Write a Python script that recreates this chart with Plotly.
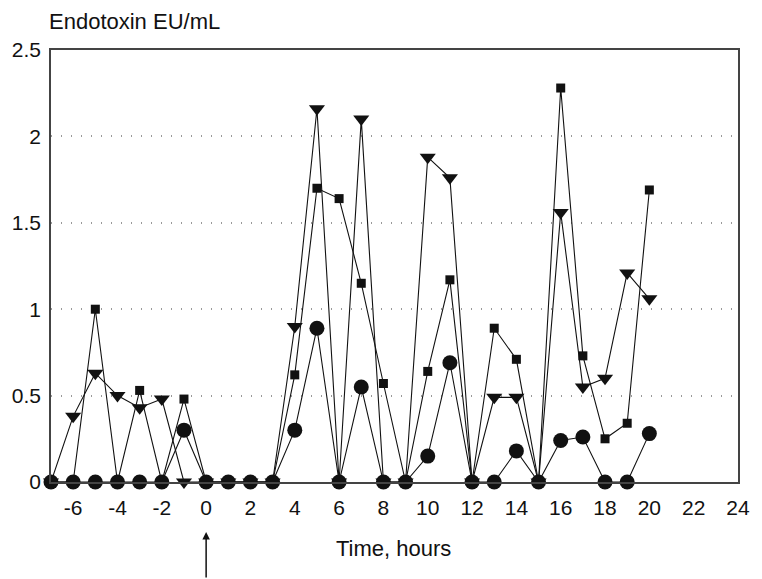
import plotly.graph_objects as go

hours = list(range(-7, 21))

circles = [0, 0, 0, 0, 0, 0, 0.30, 0, 0, 0, 0, 0.30, 0.89, 0, 0.55, 0, 0, 0.15, 0.69, 0, 0, 0.18, 0, 0.24, 0.26, 0, 0, 0.28]
squares = [0, 0, 1.00, 0, 0.53, 0, 0.48, 0, 0, 0, 0, 0.62, 1.70, 1.64, 1.15, 0.57, 0, 0.64, 1.17, 0, 0.89, 0.71, 0, 2.28, 0.73, 0.25, 0.34, 1.69]
triangles = [0, 0.38, 0.63, 0.50, 0.43, 0.48, 0, 0, 0, 0, 0, 0.90, 2.16, 0, 2.10, 0, 0, 1.88, 1.76, 0, 0.49, 0.49, 0, 1.56, 0.55, 0.60, 1.21, 1.06]

x_ticks = list(range(-6, 25, 2))
x_tick_text = [str(v) for v in x_ticks]
y_ticks = [0, 0.5, 1, 1.5, 2, 2.5]
y_tick_text = ["0", "0.5", "1", "1.5", "2", "2.5"]

FONT = "Liberation Sans, Arial, sans-serif"
LINE = dict(color="#111111", width=1.1)

fig = go.Figure()
fig.add_trace(go.Scatter(x=hours, y=squares, mode="lines+markers", line=LINE,
                         marker=dict(symbol="square", size=9, color="#111111"),
                         cliponaxis=False, showlegend=False))
fig.add_trace(go.Scatter(x=hours, y=triangles, mode="lines+markers", line=LINE,
                         marker=dict(symbol="triangle-down", size=14, color="#111111"),
                         cliponaxis=False, showlegend=False))
fig.add_trace(go.Scatter(x=hours, y=circles, mode="lines+markers", line=LINE,
                         marker=dict(symbol="circle", size=15, color="#111111"),
                         cliponaxis=False, showlegend=False))

fig.update_xaxes(range=[-7, 24], tickvals=x_ticks, ticktext=x_tick_text, showgrid=False, zeroline=False,
                 showline=True, mirror=True, linecolor="#444444", linewidth=1.5,
                 ticks="", ticklabelstandoff=6,
                 tickfont=dict(family=FONT, size=21, color="#111111"))
fig.update_yaxes(range=[0, 2.5], tickvals=y_ticks, ticktext=y_tick_text,
                 showgrid=True, gridcolor="#999999", griddash="1px,9px", gridwidth=1.5,
                 zeroline=False, showline=True, mirror=True, linecolor="#444444", linewidth=1.5,
                 ticks="", ticklabelstandoff=4,
                 tickfont=dict(family=FONT, size=21, color="#111111"))

fig.add_annotation(text="Endotoxin EU/mL", xref="paper", yref="paper",
                   x=-0.006, y=(482 - 22) / 432, xanchor="left", yanchor="middle",
                   showarrow=False, font=dict(family=FONT, size=22, color="#111111"))
fig.add_annotation(text="Time, hours", xref="paper", yref="paper",
                   x=(395 - 43) / 706, y=(482 - 548) / 432, xanchor="center", yanchor="middle",
                   showarrow=False, font=dict(family=FONT, size=22, color="#111111"))
fig.add_annotation(text="", x=0, xref="x", y=(482 - 532) / 432, yref="paper",
                   showarrow=True, arrowhead=2, arrowsize=1, arrowwidth=1.5,
                   arrowcolor="#111111", ax=0, ay=55)

fig.update_layout(width=762, height=579, margin=dict(l=43, r=13, t=50, b=97),
                  paper_bgcolor="white", plot_bgcolor="white",
                  font=dict(family=FONT, color="#111111"))

fig.write_html("out.html")
